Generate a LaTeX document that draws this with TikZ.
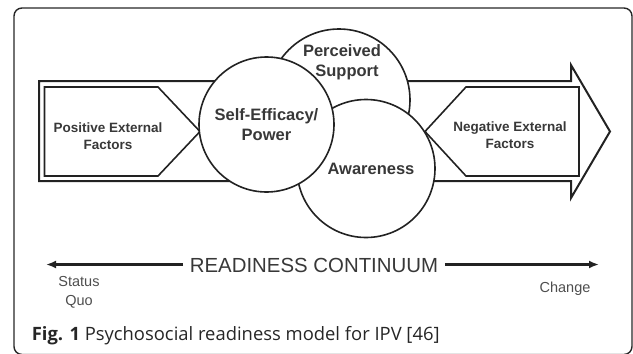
\documentclass[tikz,border=0pt]{standalone}
\usepackage{fontspec}
\setsansfont{Liberation Sans}
\newfontfamily\capfont{Open Sans}
\usetikzlibrary{arrows.meta}

\definecolor{ink}{HTML}{222222}
\tikzset{bubble/.style={circle,draw,fill=white,inner sep=0pt,align=center,
    font=\sffamily\bfseries\fontsize{16.5}{20}\selectfont}}
\tikzset{factor/.style={align=center,font=\sffamily\bfseries\fontsize{13.5}{16.5}\selectfont}}
\tikzset{scale text/.style={align=center,text=ink!80,font=\sffamily\fontsize{14.5}{19}\selectfont}}

\begin{document}
\begin{tikzpicture}[x=1pt,y=-1pt,line width=1.6pt,draw=ink,text=ink!90]
    \useasboundingbox (0,0) rectangle (633,354);
    \clip (0,0) rectangle (633,354);
    % frame
    \draw[line width=1.4pt,draw=black!85,rounded corners=8pt] (14,8) rectangle (632,354.5);
    % big arrow and the two factor boxes
    \draw[line width=2pt] (39,81) -- (571,81) -- (571,65) -- (610,131.5)
        -- (571,198) -- (571,181) -- (39,181) -- cycle;
    \draw (44.5,87) -- (158,87) -- (200,131.5) -- (158,176) -- (44.5,176) -- cycle;
    \draw (579,87) -- (466,87) -- (425,131.5) -- (466,176) -- (579,176) -- cycle;
    \node[factor] (pos) at (108,136) {Positive External\\Factors};
    \node[factor] (neg) at (510,135) {Negative External\\Factors};
    % circles
    \node[bubble,minimum size=142pt] (ps) at (339,100) {};
    \node[bubble,minimum size=138pt,text width=100pt] (aw) at (366,168.5) {\hspace*{10pt}Awareness};
    \node[bubble,minimum size=135pt] (se) at (266.5,124.5) {Self-Efficacy/\\Power};
    \node[align=center,font=\sffamily\bfseries\fontsize{16.5}{20}\selectfont] (pst) at (342,62) {Perceived\\\hspace*{10pt}Support};
    % continuum
    \node[font=\sffamily\fontsize{20.4}{24}\selectfont,inner sep=6pt] (rc) at (314,265) {READINESS CONTINUUM};
    \coordinate (sq) at (46,264.5);
    \coordinate (ch) at (599,264.5);
    \draw[line width=2.2pt,-{Latex[length=10pt,width=8pt]}] (rc.west |- sq) -- (sq);
    \draw[line width=2.2pt,-{Latex[length=10pt,width=8pt]}] (rc.east |- ch) -- (ch);
    \node[scale text] (status) at (79,292) {Status\\Quo};
    \node[scale text] (change) at (565,289) {Change};
    % caption
    \node[anchor=west,inner sep=0pt,text=black!85,font=\capfont\fontsize{18.4}{22}\selectfont] (cap) at (31,336)
        {\textbf{Fig. 1} Psychosocial readiness model for IPV [46]};
\end{tikzpicture}
\end{document}
